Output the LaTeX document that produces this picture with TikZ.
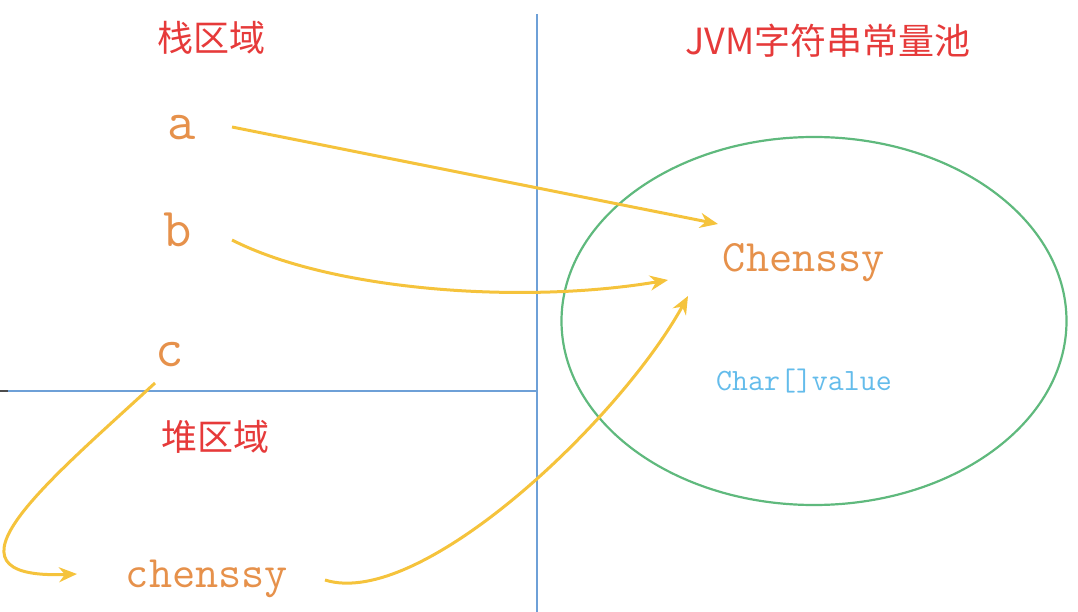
\documentclass[tikz,border=0pt]{standalone}
\usepackage{fontspec}
\newfontfamily\cjk{Noto Sans CJK SC}
\usetikzlibrary{arrows.meta, shapes.geometric}
\definecolor{areared}{RGB}{230,58,58}
\definecolor{varorange}{RGB}{230,145,75}
\definecolor{fieldblue}{RGB}{100,188,235}
\definecolor{lineblue}{RGB}{110,160,215}
\definecolor{poolgreen}{RGB}{95,185,125}
\definecolor{arrowyellow}{RGB}{245,195,60}

\begin{document}
\begin{tikzpicture}[x=1pt, y=-1pt,
  area/.style={text=areared, font=\cjk\fontsize{36}{40}\selectfont, inner sep=0pt},
  var/.style={text=varorange, font=\ttfamily\fontsize{55}{60}\selectfont, inner sep=0pt},
  word/.style={text=varorange, font=\ttfamily\fontsize{45}{50}\selectfont, inner sep=0pt},
  field/.style={text=fieldblue, font=\ttfamily\fontsize{31}{36}\selectfont, inner sep=0pt},
  arr/.style={-{Stealth[length=18pt, width=15pt]}, line width=3pt, draw=arrowyellow},
  divider/.style={line width=2.5pt, draw=lineblue}
]
\useasboundingbox (0,0) rectangle (1078,612);
% region borders
\draw[divider] (537,14) -- (537,612);
\draw[divider] (0,391) -- (537,391);
\draw[line width=2.5pt, black!70] (0,391) -- (8,391);
% titles
\node[area] (stack) at (211,38) {栈区域};
\node[area] (heap) at (215,437) {堆区域};
\node[area] (jvm) at (828,41) {JVM字符串常量池};
% string pool
\node[draw=poolgreen, line width=2.2pt, ellipse, minimum width=505pt, minimum height=368pt] (pool) at (814,321) {};
\node[word] (str) at (804,263) {Chenssy};
\node[field] (val) at (804,381) {Char[]value};
% variables
\node[var] (a) at (182,128) {a};
\node[var] (b) at (178,230) {b};
\node[var] (c) at (170,355) {c};
\node[word] (obj) at (207,579) {chenssy};
% references
\draw[arr] ([shift={(50,-1)}]a.center) -- ([shift={(-86,-39)}]str.center);
\draw[arr] ([shift={(54,10)}]b.center) .. controls +(98,50) and +(-148,25) .. ([shift={(-136,17)}]str.center);
\draw[arr] ([shift={(-15,28)}]c.center) .. controls +(-105,97) and +(-150,6) .. ([shift={(-130,-5)}]obj.center);
\draw[arr] ([shift={(118,1)}]obj.center) .. controls +(95,30) and +(-68,124) .. ([shift={(-116,33)}]str.center);
\end{tikzpicture}
\end{document}
